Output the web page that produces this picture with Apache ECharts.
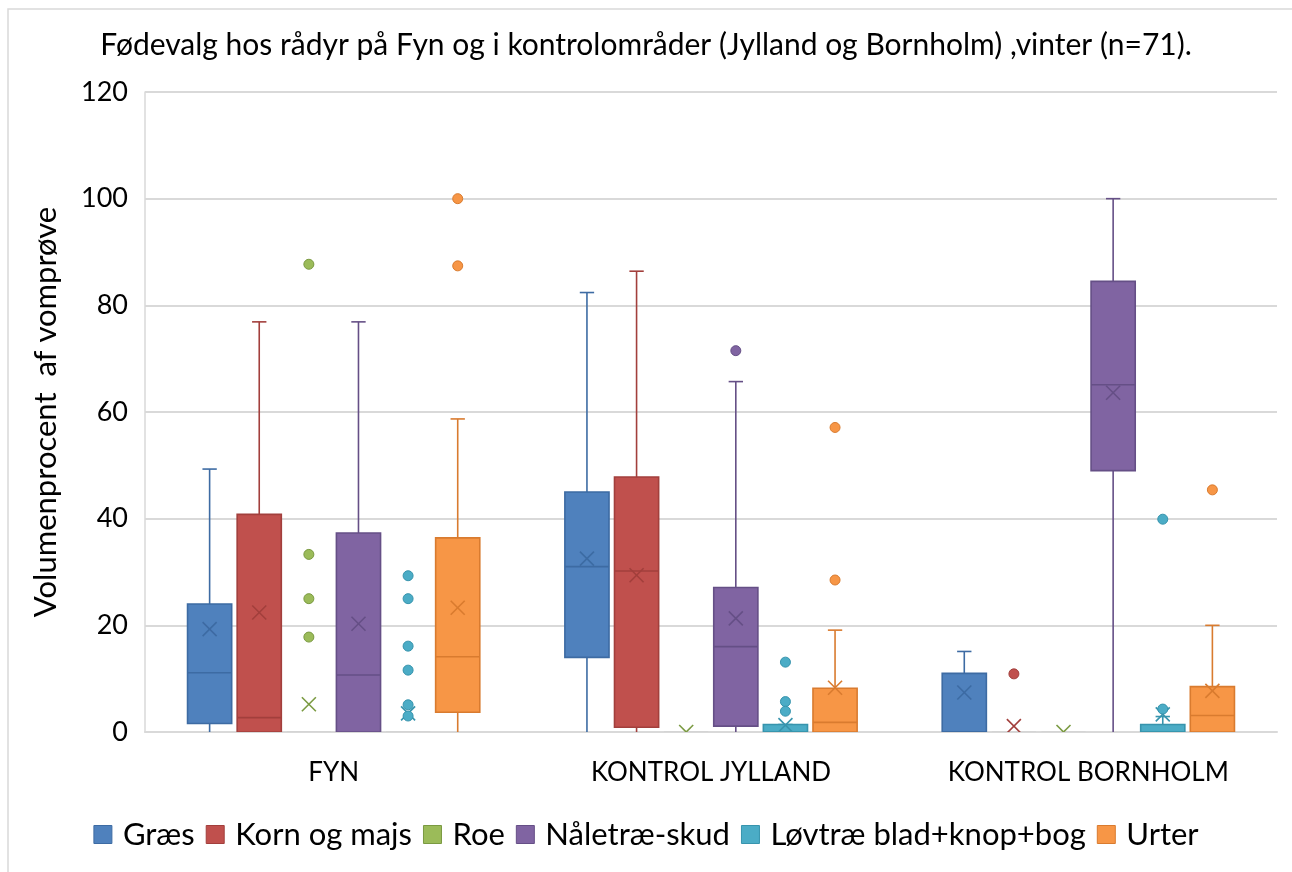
<!DOCTYPE html>
<html>
<head>
<meta charset="utf-8">
<script src="https://cdn.jsdelivr.net/npm/echarts@6/dist/echarts.min.js"></script>
<style>
    html, body { margin: 0; padding: 0; background: #fff; }
    #chart { width: 1292px; height: 872px; }
</style>
</head>
<body>
<div id="chart"></div>
<script>
const categories = ['FYN', 'KONTROL JYLLAND', 'KONTROL BORNHOLM'];
const seriesNames = ['Græs', 'Korn og majs', 'Roe', 'Nåletræ-skud', 'Løvtræ blad+knop+bog', 'Urter'];
const yTicks = [0, 20, 40, 60, 80, 100, 120];

// box stats per category: [min, q1, median, q3, max]
const graesBox = [[0, 1.6, 11.1, 24.0, 49.3], [0, 14.0, 31.0, 45.0, 82.4], [0, 0, 0, 11.0, 15.1]];
const graesMean = [19.3, 32.5, 7.4];
const graesOut = [[], [], []];

const kornBox = [[0, 0, 2.7, 40.8, 76.9], [0, 0.9, 30.2, 47.8, 86.4], [0, 0, 0, 0, 0]];
const kornMean = [22.4, 29.4, 1.1];
const kornOut = [[], [], [10.9]];

const roeBox = [[0, 0, 0, 0, 0], [0, 0, 0, 0, 0], [0, 0, 0, 0, 0]];
const roeMean = [5.2, 0, 0];
const roeOut = [[87.7, 33.3, 25.0, 17.8], [], []];

const naaleBox = [[0, 0, 10.7, 37.3, 76.9], [0, 1.1, 16.0, 27.1, 65.7], [0, 49.0, 65.1, 84.5, 100]];
const naaleMean = [20.3, 21.3, 63.6];
const naaleOut = [[], [71.5], []];

const loevBox = [[0, 0, 0, 0, 0], [0, 0, 0, 1.4, 1.4], [0, 0, 0, 1.4, 2.9]];
const loevMean = [3.5, 1.3, 3.3];
const loevOut = [[29.3, 25.0, 16.1, 11.6, 5.1, 3.0], [13.1, 5.7, 3.9], [39.9, 4.3]];

const urterBox = [[0, 3.7, 14.1, 36.4, 58.7], [0, 0, 1.8, 8.2, 19.1], [0, 0, 3.1, 8.5, 20.0]];
const urterMean = [23.3, 8.3, 7.7];
const urterOut = [[100, 87.4], [57.1, 28.5], [45.4]];

const fillColors = ['#4F81BD', '#C0504D', '#9BBB59', '#8064A2', '#4BACC6', '#F79646'];
const lineColors = ['#3D6BA3', '#A23F3C', '#7A9A41', '#654F86', '#3794AD', '#D97B2F'];

const allBoxes = [graesBox, kornBox, roeBox, naaleBox, loevBox, urterBox];
const allMeans = [graesMean, kornMean, roeMean, naaleMean, loevMean, urterMean];
const allOuts = [graesOut, kornOut, roeOut, naaleOut, loevOut, urterOut];

const FONT = 'Lato';

function offsetFor(i, band) {
    return (i - 2.5) * band * 0.1315;
}

function boxRenderer(i) {
    return function (params, api) {
        const ci = api.value(0);
        const band = api.size([1, 0])[0];
        const x = api.coord([ci, 0])[0] + offsetFor(i, band);
        const yMin = api.coord([ci, api.value(1)])[1];
        const yQ1 = api.coord([ci, api.value(2)])[1];
        const yMed = api.coord([ci, api.value(3)])[1];
        const yQ3 = api.coord([ci, api.value(4)])[1];
        const yMax = api.coord([ci, api.value(5)])[1];
        const yMean = api.coord([ci, api.value(6)])[1];
        const bw = band * 0.117;
        const cap = band * 0.019;
        const stroke = lineColors[i];
        const children = [];
        const flat = api.value(2) === api.value(4);

        if (!flat || api.value(5) !== api.value(4)) {
            children.push({
                type: 'line',
                shape: { x1: x, y1: yQ3, x2: x, y2: yMax },
                style: { stroke: stroke, lineWidth: 1.6 },
            });
            children.push({
                type: 'line',
                shape: { x1: x - cap, y1: yMax, x2: x + cap, y2: yMax },
                style: { stroke: stroke, lineWidth: 1.6 },
            });
            children.push({
                type: 'line',
                shape: { x1: x, y1: yQ1, x2: x, y2: yMin },
                style: { stroke: stroke, lineWidth: 1.6 },
            });
        }
        children.push({
            type: 'rect',
            shape: { x: x - bw / 2, y: yQ3, width: bw, height: yQ1 - yQ3 },
            style: {
                fill: fillColors[i],
                stroke: flat ? '#d4d4d4' : stroke,
                lineWidth: flat ? 2 : 1.6,
            },
        });
        if (!flat) {
            children.push({
                type: 'line',
                shape: { x1: x - bw / 2, y1: yMed, x2: x + bw / 2, y2: yMed },
                style: { stroke: stroke, lineWidth: 1.6 },
            });
        }
        // mean marker
        const m = 7;
        children.push({
            type: 'line',
            shape: { x1: x - m, y1: yMean - m, x2: x + m, y2: yMean + m },
            style: { stroke: stroke, lineWidth: 1.6 },
        });
        children.push({
            type: 'line',
            shape: { x1: x - m, y1: yMean + m, x2: x + m, y2: yMean - m },
            style: { stroke: stroke, lineWidth: 1.6 },
        });
        return { type: 'group', children: children };
    };
}

function outRenderer(i) {
    return function (params, api) {
        const ci = api.value(0);
        const band = api.size([1, 0])[0];
        const p = api.coord([ci, api.value(1)]);
        return {
            type: 'circle',
            shape: { cx: p[0] + offsetFor(i, band), cy: p[1], r: 5 },
            style: { fill: fillColors[i], stroke: lineColors[i], lineWidth: 1 },
        };
    };
}

const series = [];
seriesNames.forEach(function (name, i) {
    const boxData = allBoxes[i].map(function (b, ci) {
        return [ci].concat(b).concat([allMeans[i][ci]]);
    });
    const outData = [];
    allOuts[i].forEach(function (list, ci) {
        list.forEach(function (v) {
            outData.push([ci, v]);
        });
    });
    series.push({
        name: name,
        type: 'custom',
        renderItem: boxRenderer(i),
        itemStyle: { color: fillColors[i] },
        encode: { x: 0, y: [1, 2, 3, 4, 5, 6] },
        data: boxData,
        clip: true,
        z: 2,
    });
    series.push({
        name: name,
        type: 'custom',
        renderItem: outRenderer(i),
        itemStyle: { color: fillColors[i] },
        encode: { x: 0, y: 1 },
        data: outData,
        z: 3,
    });
});

const chart = echarts.init(document.getElementById('chart'));

const option = {
    backgroundColor: '#fff',
    animation: false,
    textStyle: { fontFamily: FONT },
    title: {
        text: 'Fødevalg hos rådyr på Fyn og i kontrolområder (Jylland og Bornholm) ,vinter (n=71).',
        left: 'center',
        top: 25,
        textStyle: { fontFamily: FONT, fontSize: 30, fontWeight: 'normal', color: '#000' },
    },
    legend: {
        data: seriesNames.map(function (n, i) {
            return { name: n, itemStyle: { color: fillColors[i], borderColor: lineColors[i], borderWidth: 1 } };
        }),
        left: 'center',
        top: 814,
        icon: 'rect',
        itemWidth: 18,
        itemHeight: 18,
        itemGap: 11,
        textStyle: { fontFamily: FONT, fontSize: 31, color: '#000', padding: [0, 0, 0, 6] },
    },
    grid: { left: 145, right: 15, top: 92, bottom: 140 },
    xAxis: {
        type: 'category',
        data: categories,
        axisLine: { show: true, lineStyle: { color: '#d9d9d9', width: 2 } },
        axisTick: { show: false },
        axisLabel: { fontFamily: FONT, fontSize: 26, color: '#000', margin: 28 },
        splitLine: { show: false },
    },
    yAxis: {
        type: 'value',
        min: yTicks[0],
        max: yTicks[yTicks.length - 1],
        interval: 20,
        name: 'Volumenprocent  af vomprøve',
        nameLocation: 'middle',
        nameGap: 84,
        nameTextStyle: { fontFamily: FONT, fontSize: 31, color: '#000' },
        axisLine: { show: true, lineStyle: { color: '#d9d9d9', width: 1.5 } },
        axisTick: { show: false },
        axisLabel: { fontFamily: FONT, fontSize: 27, color: '#000', margin: 17 },
        splitLine: { lineStyle: { color: '#d9d9d9', width: 2 } },
    },
    graphic: [
        {
            type: 'rect',
            shape: { x: 8, y: 9, width: 1400, height: 1000 },
            style: { fill: 'none', stroke: '#d9d9d9', lineWidth: 1.5 },
            silent: true,
        },
    ],
    series: series,
};

chart.setOption(option);
</script>
</body>
</html>
